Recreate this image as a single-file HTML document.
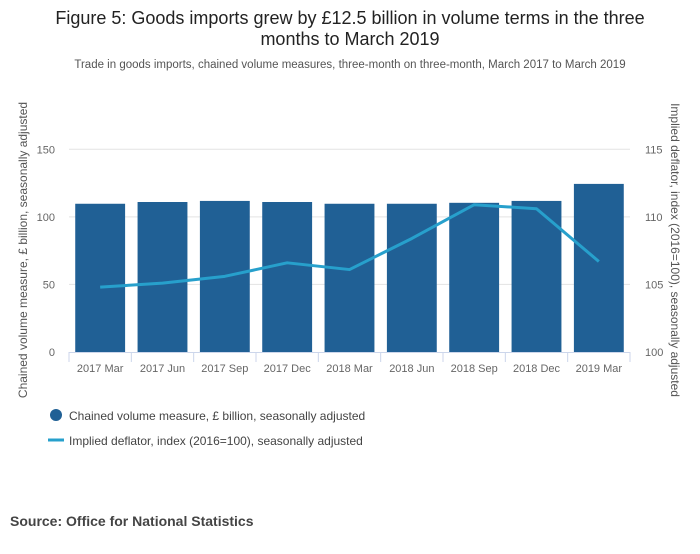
<!DOCTYPE html>
<html><head><meta charset="utf-8"><style>
body{margin:0;background:#fff;font-family:"Liberation Sans",sans-serif;}
svg text{font-family:"Liberation Sans",sans-serif;}
</style></head><body>
<svg id="chart" width="700" height="549" xmlns="http://www.w3.org/2000/svg">
<text x="350" y="24" text-anchor="middle" font-size="18" fill="#222">Figure 5: Goods imports grew by £12.5 billion in volume terms in the three</text>
<text x="350" y="45" text-anchor="middle" font-size="18" fill="#222">months to March 2019</text>
<text x="350" y="68" text-anchor="middle" font-size="11.5" fill="#555">Trade in goods imports, chained volume measures, three-month on three-month, March 2017 to March 2019</text>
<g id="grid"></g><g id="bars"></g><g id="xaxis"></g><g id="lines"></g><g id="yl"></g><g id="yr"></g>
<text transform="translate(27,250) rotate(-90)" text-anchor="middle" font-size="12" fill="#555">Chained volume measure, £ billion, seasonally adjusted</text>
<text transform="translate(671,250) rotate(90)" text-anchor="middle" font-size="12" fill="#555">Implied deflator, index (2016=100), seasonally adjusted</text>
<circle cx="56" cy="415" r="6" fill="#206095"/>
<text x="69" y="420" font-size="12" fill="#444">Chained volume measure, £ billion, seasonally adjusted</text>
<line x1="48" y1="440" x2="64" y2="440" stroke="#27a0cc" stroke-width="3"/>
<text x="69" y="445" font-size="12" fill="#444">Implied deflator, index (2016=100), seasonally adjusted</text>
<text x="10" y="526" font-size="14" font-weight="bold" fill="#444">Source: Office for National Statistics</text>
</svg>
<script>
const categories=["2017 Mar","2017 Jun","2017 Sep","2017 Dec","2018 Mar","2018 Jun","2018 Sep","2018 Dec","2019 Mar"];
const volumeValues=[109.7,111.0,111.8,111.0,109.7,109.7,110.4,111.8,124.4];
const deflatorValues=[104.8,105.1,105.6,106.6,106.1,108.4,110.9,110.6,106.7];
const leftTicks=[0,50,100,150];
const rightTicks=[100,105,110,115];
const NS="http://www.w3.org/2000/svg";
const X0=69,X1=630,Y0=352,Y150=149.3;
const bw=(X1-X0)/categories.length;
function yL(v){return Y0-(v/150)*(Y0-Y150);}
function yR(v){return Y0-((v-100)/15)*(Y0-Y150);}
function xC(i){return X0+bw*(i+0.5);}
function mk(tag,attrs,parent){const e=document.createElementNS(NS,tag);for(const k in attrs)e.setAttribute(k,attrs[k]);document.getElementById(parent).appendChild(e);return e;}
leftTicks.forEach((t,i)=>{
  if(t>0){const g=mk('line',{x1:X0,x2:X1,y1:yL(t),y2:yL(t),stroke:'#e3e3e3','stroke-width':1},'grid');
  
  }
  const tx=mk('text',{x:55,y:yL(t)+4,'text-anchor':'end','font-size':11,fill:'#666'},'yl');tx.textContent=t;
  
  
});
rightTicks.forEach(t=>{
  const tx=mk('text',{x:645,y:yR(t)+4,'text-anchor':'start','font-size':11,fill:'#666'},'yr');tx.textContent=t;
  
  
});
categories.forEach((c,i)=>{
  const w=bw*0.8,x=xC(i)-w/2;
  const b=mk('rect',{x:x,y:yL(volumeValues[i]),width:w,height:Y0-yL(volumeValues[i]),fill:'#206095'},'bars');
  
  
  const tx=mk('text',{x:xC(i),y:372,'text-anchor':'middle','font-size':11,fill:'#666'},'xaxis');tx.textContent=c;
  
  
});
for(let i=0;i<=categories.length;i++){
  const t=mk('line',{x1:X0+bw*i,x2:X0+bw*i,y1:Y0,y2:Y0+10,stroke:'#ccd6eb'},'xaxis');
  
  
}
const ax=mk('line',{x1:X0,x2:X1,y1:Y0+0.5,y2:Y0+0.5,stroke:'#ccd6eb'},'xaxis');


const pts=deflatorValues.map((v,i)=>xC(i)+','+yR(v)).join(' ');
const pl=mk('polyline',{points:pts,fill:'none',stroke:'#27a0cc','stroke-width':3,'stroke-linejoin':'round'},'lines');


</script>
</body></html>
